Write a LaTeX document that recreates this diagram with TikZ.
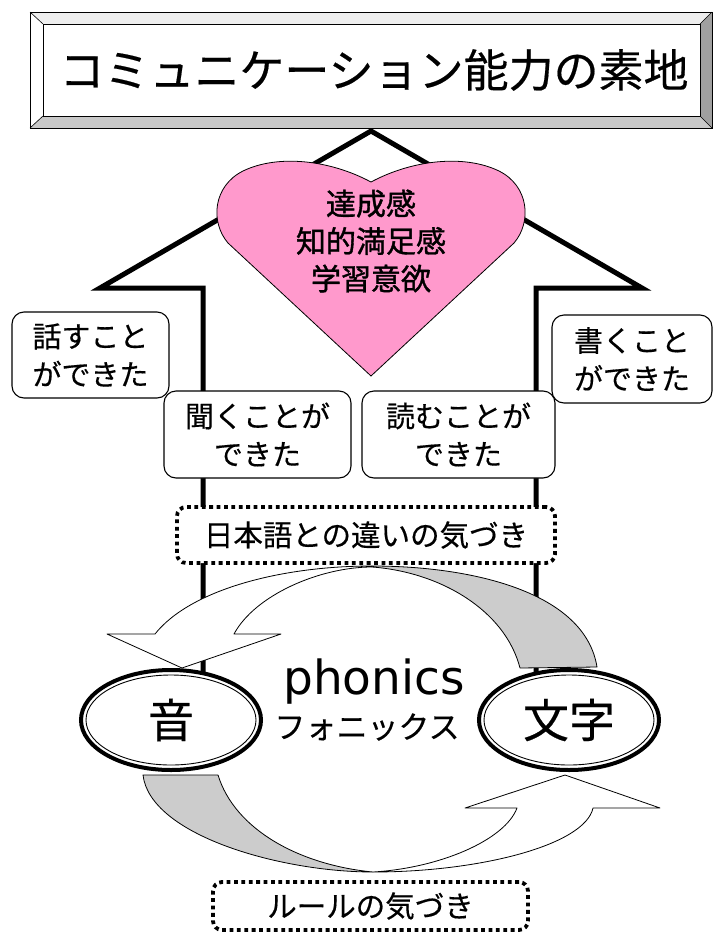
\documentclass[tikz,border=0pt]{standalone}
\usepackage{fontspec}
\setmainfont[FakeBold=0.4]{Noto Sans CJK JP}
\newfontfamily\latinfont{DejaVu Sans}
\newfontfamily\heartfont[FakeBold=1.2]{Noto Sans CJK JP}
\usetikzlibrary{shapes.geometric}
\definecolor{heartpink}{HTML}{FF99CC}
\definecolor{bandgray}{HTML}{CCCCCC}
\definecolor{bevtop}{HTML}{EEEEEE}
\definecolor{bevbot}{HTML}{C8C8C8}
\definecolor{bevright}{HTML}{A0A0A0}
\begin{document}
\begin{tikzpicture}[x=1pt,y=-1pt,
  boxtext/.style={font=\fontsize{29pt}{38pt}\selectfont, align=center},
  rbox/.style={draw, line width=1.1pt, rounded corners=12pt, fill=white, inner sep=0pt, boxtext},
  dotbox/.style={draw, line width=3.8pt, dash pattern=on 3.8pt off 3.6pt, rounded corners=9pt, fill=white, inner sep=0pt, font=\fontsize{29.5pt}{34pt}\selectfont},
  band/.style={draw, line width=0.8pt, line join=round},
  ring/.style={ellipse, draw, line width=4pt, fill=white, inner sep=0pt, minimum width=180pt, minimum height=100pt, font=\fontsize{46pt}{50pt}\selectfont}
]
\useasboundingbox (0,0) rectangle (725,932);

% big up arrow (house shape)
\draw[line width=5pt, line join=miter] (203,705) -- (203,288) -- (100,288) -- (371,131) -- (642,288) -- (536,288) -- (536,705);

% title bevel box
\fill[bevtop] (30,12) -- (712,12) -- (700,24) -- (43,24) -- cycle;
\fill[white] (30,12) -- (43,24) -- (43,116) -- (30,128) -- cycle;
\fill[bevbot] (30,128) -- (43,116) -- (700,116) -- (712,128) -- cycle;
\fill[bevright] (712,12) -- (700,24) -- (700,116) -- (712,128) -- cycle;
\draw[line width=0.8pt] (30,12) rectangle (712,128);
\draw[line width=0.8pt, fill=white] (43,24) rectangle (700,116);
\draw[line width=0.6pt] (30,12) -- (43,24) (712,12) -- (700,24) (30,128) -- (43,116) (712,128) -- (700,116);
\node[font=\fontsize{45pt}{50pt}\selectfont] (title) at (374,70) {コミュニケーション能力の素地};

% heart
\filldraw[fill=heartpink, draw=black, line width=0.8pt]
  (371,376) -- (228,243) .. controls (210,222) and (213,186) .. (243,171)
  .. controls (278,154) and (330,160) .. (371,182)
  .. controls (412,160) and (464,154) .. (499,171)
  .. controls (529,186) and (532,222) .. (514,243) -- cycle;
\node[align=center, font=\heartfont\fontsize{30pt}{37.5pt}\selectfont] (heart) at (371,241) {達成感\\知的満足感\\学習意欲};

% rounded boxes
\node[rbox, minimum width=157pt, minimum height=86pt] (speak) at (90.5,355) {話すこと\\ができた};
\node[rbox, minimum width=160pt, minimum height=88pt] (write) at (632,359) {書くこと\\ができた};
\node[rbox, minimum width=187pt, minimum height=87pt] (listen) at (257.5,434.5) {聞くことが\\できた};
\node[rbox, minimum width=193pt, minimum height=87pt] (read) at (458.5,434.5) {読むことが\\できた};

% dotted boxes
\node[dotbox, minimum width=378pt, minimum height=56pt] (diff) at (366,535) {日本語との違いの気づき};
\node[dotbox, minimum width=315pt, minimum height=48pt] (rule) at (370.5,906) {ルールの気づき};

% top curved arrow: gray back part
\filldraw[band, fill=bandgray] (372,566) .. controls (472,566) and (585,592) .. (597,667)
  -- (520,668) .. controls (505,610) and (440,572) .. (372,567) -- cycle;
% top curved arrow: white front part with head
\filldraw[band, fill=white] (372,566) .. controls (280,566) and (190,590) .. (155,634)
  -- (107,634) -- (182,668) -- (281,634) -- (234,634)
  .. controls (255,595) and (320,567) .. (372,567) -- cycle;

% bottom curved arrow: gray back part
\filldraw[band, fill=bandgray] (143,775) .. controls (150,835) and (280,872) .. (373,872)
  .. controls (300,865) and (235,830) .. (218,775) -- cycle;
% bottom curved arrow: white front part with head
\filldraw[band, fill=white] (373,872) .. controls (480,872) and (585,845) .. (593,808)
  -- (660,808) -- (565,775) -- (465,808) -- (517,808)
  .. controls (505,840) and (440,868) .. (373,872) -- cycle;

% ellipses
\node[ring] (oto) at (171,720) {音};
\draw[line width=0.9pt] (oto.center) ellipse [x radius=85pt, y radius=45pt];
\node[ring] (moji) at (569,720) {文字};
\draw[line width=0.9pt] (moji.center) ellipse [x radius=85pt, y radius=45pt];

% phonics label
\node[font=\latinfont\fontsize{47pt}{50pt}\selectfont] (phon) at (374,682) {phonics};
\node[font=\fontsize{31pt}{34pt}\selectfont] (phonjp) at (367,727) {フォニックス};
\end{tikzpicture}
\end{document}
